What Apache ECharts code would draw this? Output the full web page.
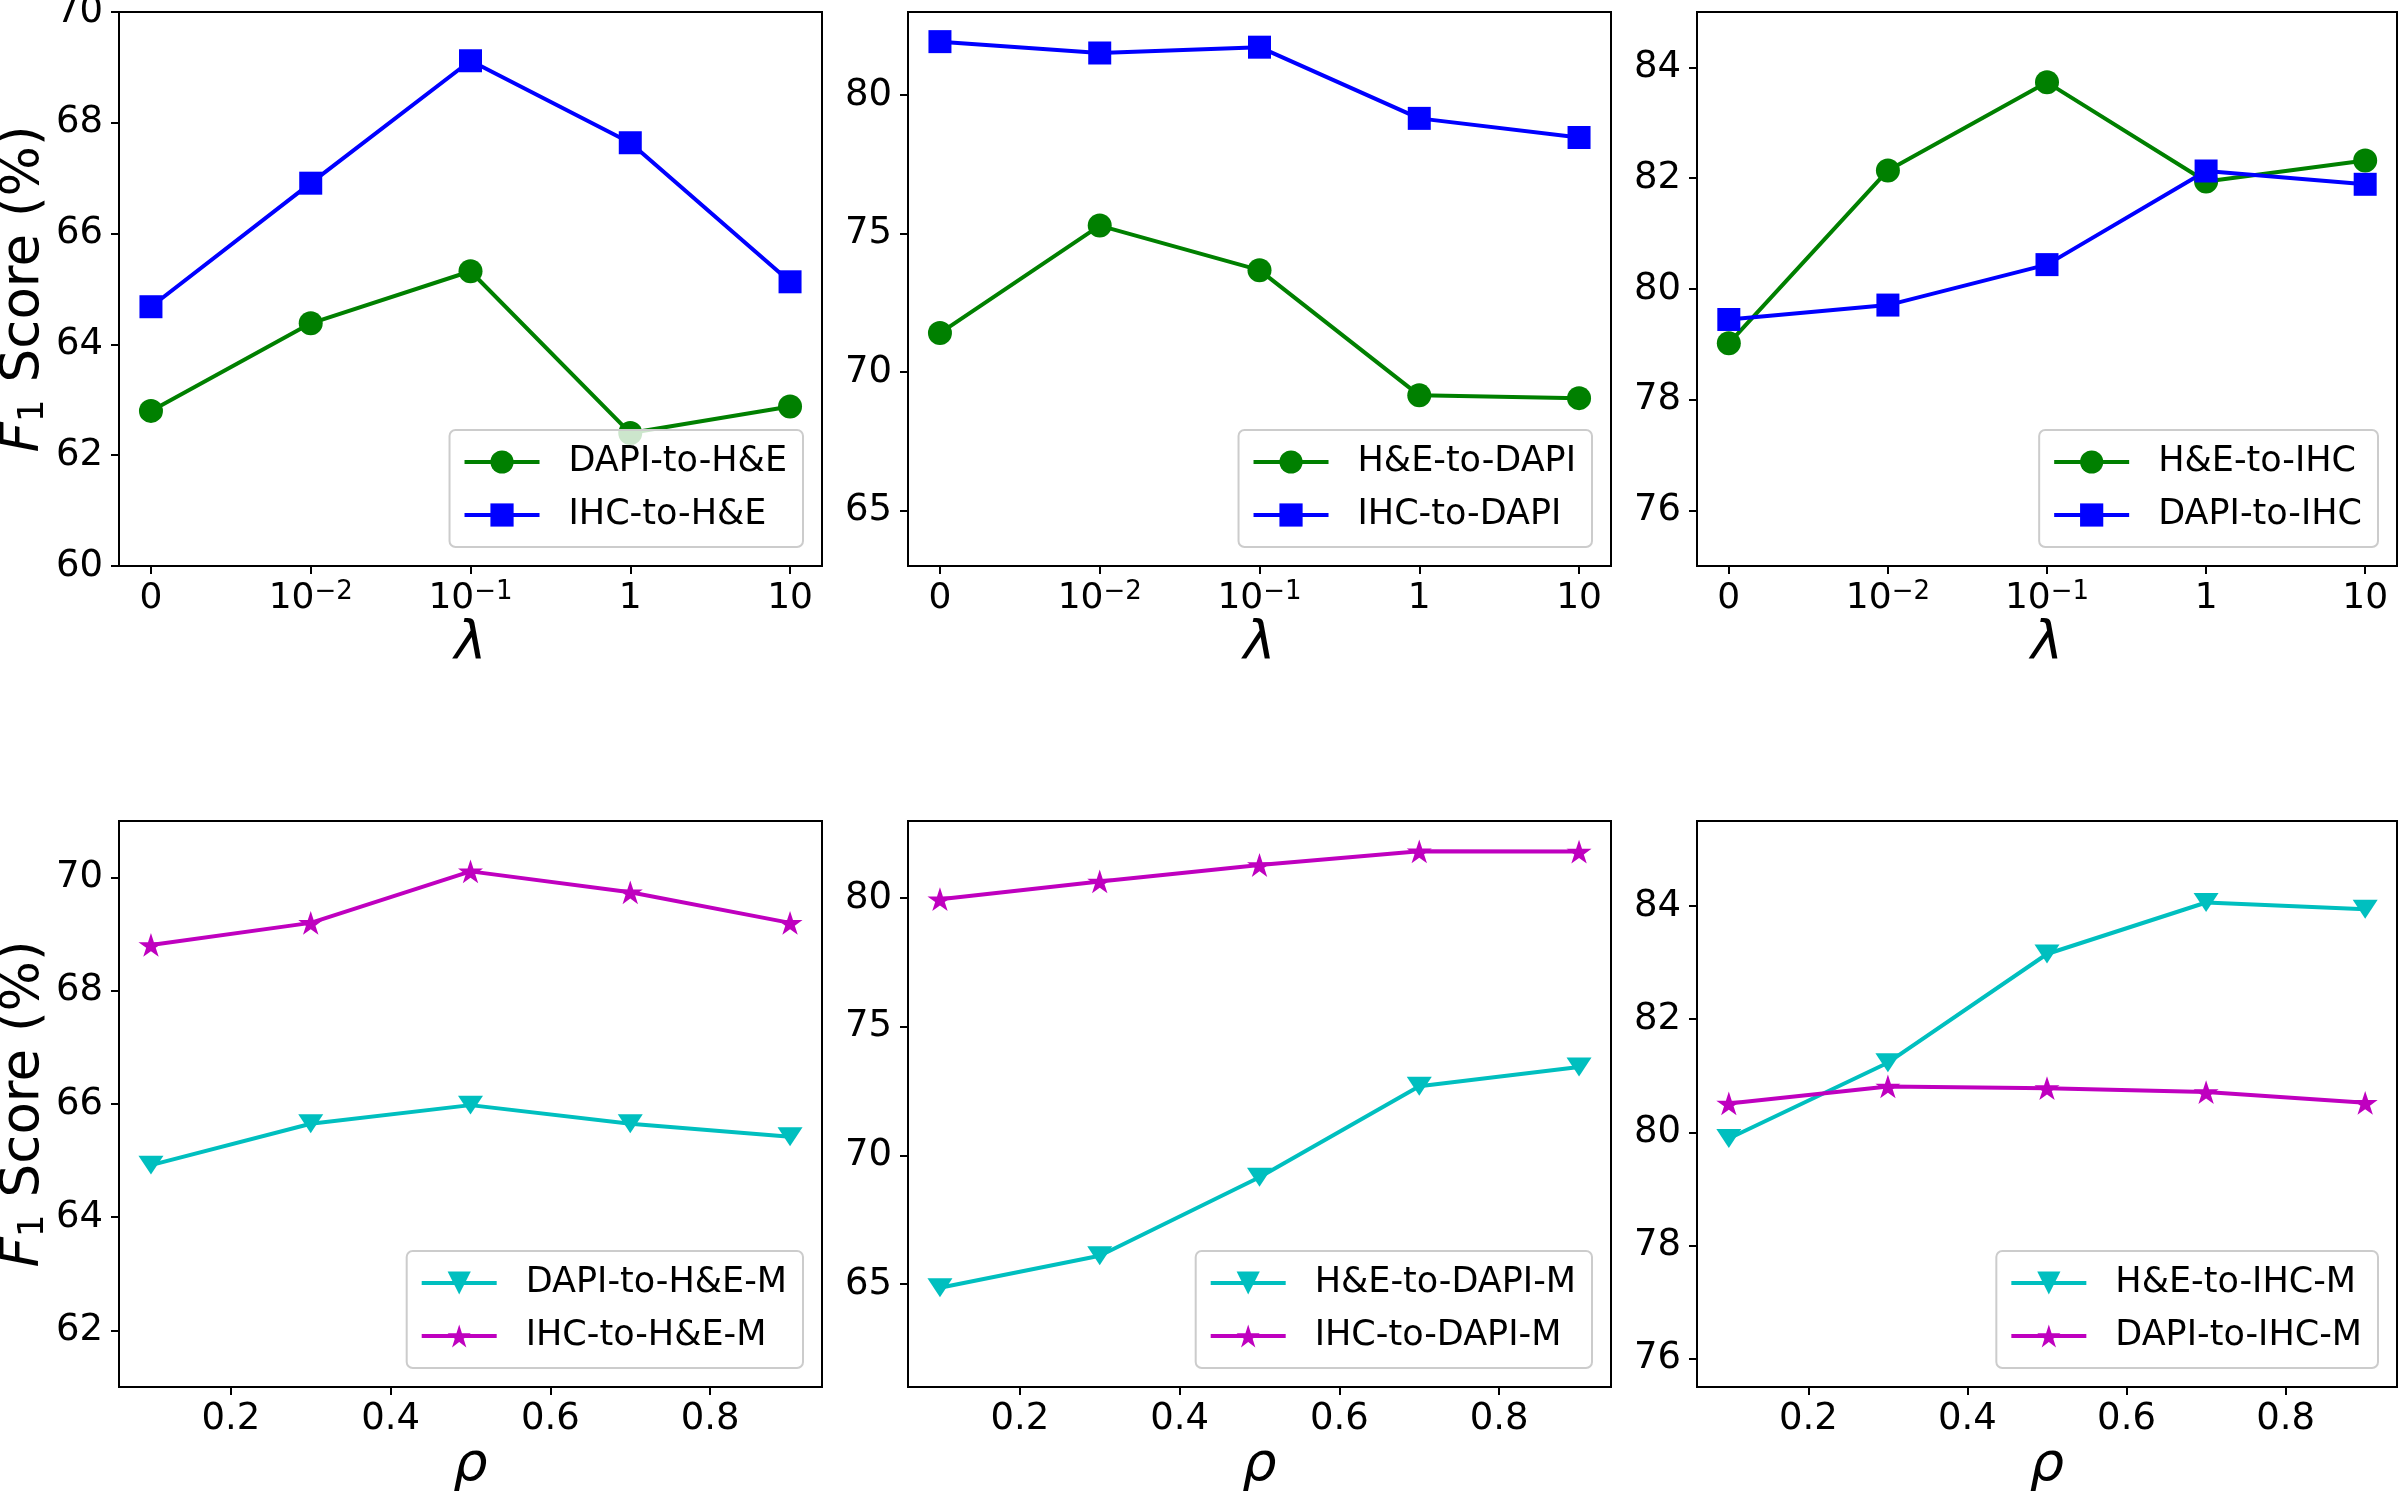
<!DOCTYPE html>
<html><head><meta charset="utf-8">
<script src="https://cdn.jsdelivr.net/npm/echarts@6/dist/echarts.min.js"></script>
<style>html,body{margin:0;padding:0;background:#fff}#c{width:2400px;height:1494px}</style>
</head><body><div id="c"></div>
<script>
// ---- data ----
const lambdaPos = [0, 1, 2, 3, 4];
const lambdaBase = ['0', '10', '10', '1', '10'];
const lambdaExp = ['', '−2', '−1', '', ''];
const rhoValues = [0.1, 0.3, 0.5, 0.7, 0.9];
const rhoTicks = [0.2, 0.4, 0.6, 0.8];

const yTicks1 = [60, 62, 64, 66, 68, 70];
const yTicks2 = [65, 70, 75, 80];
const yTicks3 = [76, 78, 80, 82, 84];
const yTicks4 = [62, 64, 66, 68, 70];
const yTicks5 = [65, 70, 75, 80];
const yTicks6 = [76, 78, 80, 82, 84];

const dapiToHE  = [62.80, 64.38, 65.32, 62.40, 62.88];
const ihcToHE   = [64.68, 66.91, 69.12, 67.64, 65.13];
const heToDAPI  = [71.41, 75.29, 73.68, 69.16, 69.06];
const ihcToDAPI = [81.93, 81.52, 81.73, 79.16, 78.47];
const heToIHC   = [79.02, 82.14, 83.73, 81.94, 82.32];
const dapiToIHC = [79.45, 79.71, 80.44, 82.13, 81.89];

const dapiToHEM  = [64.92, 65.65, 65.98, 65.65, 65.42];
const ihcToHEM   = [68.81, 69.20, 70.11, 69.74, 69.20];
const heToDAPIM  = [64.86, 66.10, 69.15, 72.69, 73.44];
const ihcToDAPIM = [79.96, 80.65, 81.29, 81.82, 81.81];
const heToIHCM   = [79.89, 81.23, 83.15, 84.06, 83.94];
const dapiToIHCM = [80.51, 80.81, 80.78, 80.71, 80.52];

// ---- styles ----
const FONT = 'DejaVu Sans';
const STAR = 'path://M50,0 L61.23,34.55 L97.55,34.55 L68.17,55.9 L79.39,90.45 L50,69.1 L20.61,90.45 L31.83,55.9 L2.45,34.55 L38.77,34.55 Z';
const TRI_DOWN = 'path://M0,0 L100,0 L50,86 Z';
const styles = {
  green:   {color: '#008000', symbol: 'circle', size: 24},
  blue:    {color: '#0000ff', symbol: 'rect', size: 23},
  cyan:    {color: '#00bfbf', symbol: TRI_DOWN, size: [25, 22]},
  magenta: {color: '#bf00bf', symbol: STAR, size: 25}
};

const panels = [
  {left: 119, top: 12, w: 703, h: 554, x: 'lambda', yMin: 60, yMax: 70, yTicks: yTicks1, yName: true,
   series: [['DAPI-to-H&E', dapiToHE, 'green'], ['IHC-to-H&E', ihcToHE, 'blue']]},
  {left: 908, top: 12, w: 703, h: 554, x: 'lambda', yMin: 63, yMax: 83, yTicks: yTicks2, yName: false,
   series: [['H&E-to-DAPI', heToDAPI, 'green'], ['IHC-to-DAPI', ihcToDAPI, 'blue']]},
  {left: 1697, top: 12, w: 700, h: 554, x: 'lambda', yMin: 75, yMax: 85, yTicks: yTicks3, yName: false,
   series: [['H&E-to-IHC', heToIHC, 'green'], ['DAPI-to-IHC', dapiToIHC, 'blue']]},
  {left: 119, top: 821, w: 703, h: 566, x: 'rho', yMin: 61, yMax: 71, yTicks: yTicks4, yName: true,
   series: [['DAPI-to-H&E-M', dapiToHEM, 'cyan'], ['IHC-to-H&E-M', ihcToHEM, 'magenta']]},
  {left: 908, top: 821, w: 703, h: 566, x: 'rho', yMin: 61, yMax: 83, yTicks: yTicks5, yName: false,
   series: [['H&E-to-DAPI-M', heToDAPIM, 'cyan'], ['IHC-to-DAPI-M', ihcToDAPIM, 'magenta']]},
  {left: 1697, top: 821, w: 700, h: 566, x: 'rho', yMin: 75.5, yMax: 85.5, yTicks: yTicks6, yName: false,
   series: [['H&E-to-IHC-M', heToIHCM, 'cyan'], ['DAPI-to-IHC-M', dapiToIHCM, 'magenta']]}
];

function fmtLambda(v) {
  const i = lambdaPos.indexOf(Math.round(v));
  if (i < 0) return '';
  return lambdaExp[i] ? '{b|' + lambdaBase[i] + '}{s|' + lambdaExp[i] + '}' : '{b|' + lambdaBase[i] + '}';
}

const option = {animation: false, backgroundColor: '#fff', grid: [], xAxis: [], yAxis: [], series: [], legend: []};

panels.forEach((p, i) => {
  option.grid.push({left: p.left, top: p.top, width: p.w, height: p.h, show: true,
    borderColor: '#000', borderWidth: 2, backgroundColor: 'rgba(0,0,0,0)', containLabel: false, outerBoundsMode: 'none'});
  const isL = p.x === 'lambda';
  option.xAxis.push({
    gridIndex: i, type: 'value',
    min: isL ? -0.2 : 0.06, max: isL ? 4.2 : 0.94,
    name: isL ? 'λ' : 'ρ', nameLocation: 'middle', nameGap: isL ? 52 : 50,
    nameTextStyle: {fontSize: 54, fontStyle: 'italic', fontFamily: FONT, color: '#000'},
    axisLine: {show: true, onZero: false, lineStyle: {color: '#000', width: 2}},
    axisTick: {show: true, length: 8, lineStyle: {color: '#000', width: 2}, customValues: isL ? lambdaPos : rhoTicks},
    axisLabel: isL ? {
      customValues: lambdaPos, formatter: fmtLambda, margin: 13, color: '#000', fontFamily: FONT,
      rich: {b: {fontSize: 36, fontFamily: FONT, color: '#000', lineHeight: 40},
             s: {fontSize: 26, fontFamily: FONT, color: '#000', lineHeight: 22, verticalAlign: 'top'}}
    } : {
      customValues: rhoTicks, formatter: v => v.toFixed(1), margin: 14, color: '#000', fontSize: 37, fontFamily: FONT
    },
    splitLine: {show: false}
  });
  option.yAxis.push({
    gridIndex: i, type: 'value', min: p.yMin, max: p.yMax,
    name: p.yName ? '{i|F}{s|1} Score (%)' : '', nameLocation: 'middle', nameGap: 64, nameRotate: 90,
    nameTextStyle: {fontSize: 53, fontFamily: FONT, color: '#000',
      rich: {i: {fontSize: 53, fontStyle: 'italic', fontFamily: FONT, color: '#000', lineHeight: 56},
             s: {fontSize: 36, fontFamily: FONT, color: '#000', lineHeight: 34, verticalAlign: 'bottom'}}},
    axisLine: {show: true, onZero: false, lineStyle: {color: '#000', width: 2}},
    axisTick: {show: true, length: 8, lineStyle: {color: '#000', width: 2}, customValues: p.yTicks},
    axisLabel: {customValues: p.yTicks, margin: 16, color: '#000', fontSize: 37, fontFamily: FONT},
    splitLine: {show: false}
  });
  const names = [];
  p.series.forEach(([name, vals, st]) => {
    const s = styles[st];
    names.push(name);
    const xs = isL ? lambdaPos : rhoValues;
    option.series.push({
      name, type: 'line', xAxisIndex: i, yAxisIndex: i,
      data: vals.map((v, k) => [xs[k], v]),
      symbol: s.symbol, symbolSize: s.size, symbolKeepAspect: true, showSymbol: true,
      lineStyle: {color: s.color, width: 4},
      itemStyle: {color: s.color, borderWidth: 0},
      emphasis: {disabled: true}, z: 3
    });
  });
  option.legend.push({
    orient: 'vertical', align: 'left',
    right: 2400 - (p.left + p.w) + 19, bottom: 1494 - (p.top + p.h) + 19,
    itemWidth: 75, itemHeight: 29, itemGap: 17,
    padding: [14, 16, 14, 13],
    backgroundColor: 'rgba(255,255,255,0.8)', borderColor: '#cccccc', borderWidth: 2, borderRadius: 6,
    lineStyle: {width: 4},
    textStyle: {fontSize: 35, fontFamily: FONT, color: '#000', lineHeight: 36, padding: [0, 0, 0, 24]},
    selectedMode: false,
    data: names
  });
});

const chart = echarts.init(document.getElementById('c'), null, {renderer: 'canvas'});
chart.setOption(option);
</script>
</body></html>
